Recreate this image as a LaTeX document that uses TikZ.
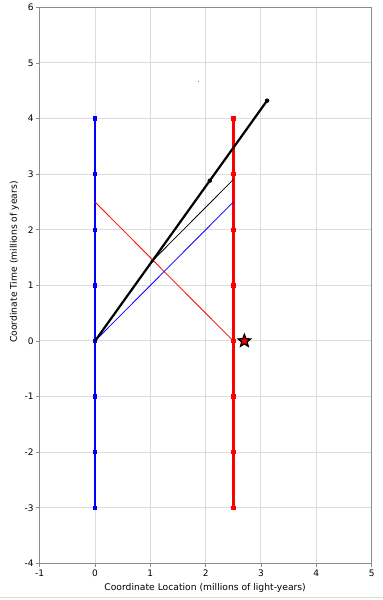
\documentclass[tikz,border=0pt]{standalone}
\usepackage{fontspec}
\setmainfont{DejaVu Sans}
\usetikzlibrary{shapes.geometric}
\definecolor{gridc}{HTML}{DCDCDC}
\definecolor{axisc}{HTML}{8C8C8C}
\definecolor{earthc}{HTML}{0000FF}
\definecolor{galc}{HTML}{FF0000}
\tikzset{
  gridl/.style={draw=gridc, line width=1pt},
  frame/.style={draw=axisc, line width=1pt},
  world/.style={line width=2.8pt},
  ship/.style={draw=black, line width=2.2pt, line cap=round},
  sig/.style={line width=0.8pt},
  sq/.style={rectangle, inner sep=0pt, minimum size=4.5pt},
  bdot/.style={circle, fill=black, inner sep=0pt, minimum size=4.5pt},
  ticklab/.style={font=\fontsize{9}{11}\selectfont, text=black, inner sep=1pt},
  ttl/.style={font=\fontsize{9.2}{11}\selectfont, text=black, inner sep=0pt},
}

\begin{document}
\begin{tikzpicture}[x=1pt,y=1pt]
  \useasboundingbox (0,0) rectangle (383,600);
  \fill[white] (0,0) rectangle (383,600);
  \draw[gridc, line width=1pt] (0,2) -- (383,2);
  \begin{scope}[shift={(95,259)}, x=55.33pt, y=55.6pt]
    % grid and frame
    \foreach \i in {0,...,4} \draw[gridl] (\i,-4) -- (\i,6);
    \foreach \j in {-3,...,5} \draw[gridl] (-1,\j) -- (5,\j);
    \draw[frame] (-1,-4) rectangle (5,6);
    \foreach \i [count=\k] in {-1,...,5} {
      \draw[axisc, line width=0.8pt] (\i,-4) -- ++(0,-4pt);
      \node[ticklab, anchor=north] (xl\k) at (\i,-4.1) {\i};
    }
    \foreach \j [count=\k] in {-4,...,6} {
      \draw[axisc, line width=0.8pt] (-1,\j) -- ++(-4pt,0);
      \node[ticklab, anchor=east] (yl\k) at (-1.09,\j) {\j};
    }
    \node[ttl] (xttl) at (1.99,-4.44) {Coordinate Location (millions of light-years)};
    \node[ttl, rotate=90] (yttl) at (-1.46,1.42) {Coordinate Time (millions of years)};

    % world lines
    \coordinate (E0) at (0,-3);
    \coordinate (E1) at (0,4);
    \coordinate (G0) at (2.5,-3);
    \coordinate (G1) at (2.5,4);
    \draw[world, earthc] (E0) -- (E1);
    \draw[world, galc] (G0) -- (G1);
    \foreach \t [count=\k] in {-3,...,4} {
      \node[sq, fill=earthc] (e\k) at (0,\t) {};
      \node[sq, fill=galc] (g\k) at (2.5,\t) {};
    }

    % light signals
    \coordinate (S0) at (0,0);
    \coordinate (S1) at (1.037,1.441);
    \coordinate (S2) at (2.074,2.882);
    \coordinate (S3) at (3.11,4.323);
    \coordinate (R1) at (2.5,2.5);
    \coordinate (R2) at (2.5,2.904);
    \coordinate (L0) at (0,2.5);
    \coordinate (L1) at (2.5,0);
    \draw[sig, galc] (L0) -- (L1);
    \draw[sig, earthc] (S0) -- (R1);
    \draw[sig, black] (S1) -- (R2);

    % ship
    \draw[ship] (S0) -- (S3);
    \node[bdot, minimum size=3.5pt] (s1) at (S1) {};
    \node[bdot] (s2) at (S2) {};
    \node[bdot] (s3) at (S3) {};

    \node[star, star points=5, star point ratio=2.3, minimum size=13pt,
          inner sep=0pt, fill=galc, draw=black, line width=1.3pt] (gal) at (2.7,0) {};
  \end{scope}
  \fill[gray] (197.5,517.5) rectangle (198.5,518.5);
\end{tikzpicture}
\end{document}
